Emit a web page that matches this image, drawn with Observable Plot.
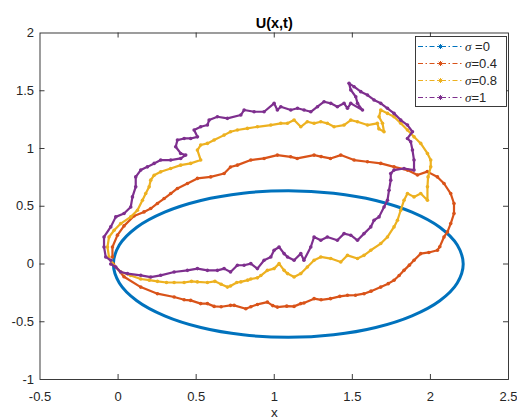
<!DOCTYPE html>
<html><head><meta charset="utf-8">
<script src="https://cdn.jsdelivr.net/npm/d3@7"></script>
<script src="https://cdn.jsdelivr.net/npm/@observablehq/plot@0.6"></script>
<style>
body{margin:0;background:#fff;}
#wrap{position:relative;width:517px;height:419px;font-family:"Liberation Sans",Arial,sans-serif;}
#legend{position:absolute;left:415px;top:36px;}
</style></head><body><div id="wrap"></div>
<script>
// ---- data ----
const titleText = "U(x,t)";
const xLabel = "x";
const xTicks = [-0.5, 0, 0.5, 1, 1.5, 2, 2.5];
const xTickLabels = ["-0.5", "0", "0.5", "1", "1.5", "2", "2.5"];
const yTicks = [-1, -0.5, 0, 0.5, 1, 1.5, 2];
const yTickLabels = ["-1", "-0.5", "0", "0.5", "1", "1.5", "2"];
const seriesNames = ["σ =0", "σ=0.4", "σ=0.8", "σ=1"];
const seriesColors = ["#0072BD", "#D95319", "#EDB120", "#7E2F8E"];

// σ = 0 : closed orbit (points read around the ellipse)
const sigma0 = [
  [2.21,0],[2.172,0.164],[2.06,0.318],[1.882,0.449],[1.65,0.55],[1.38,0.613],
  [1.09,0.635],[0.8,0.613],[0.53,0.55],[0.298,0.449],[0.12,0.318],[0.008,0.164],
  [-0.03,0],[0.008,-0.164],[0.12,-0.318],[0.298,-0.449],[0.53,-0.55],[0.8,-0.613],
  [1.09,-0.635],[1.38,-0.613],[1.65,-0.55],[1.882,-0.449],[2.06,-0.318],[2.172,-0.164]
];

// σ = 0.4
const sigma04 = [
  [-0.03,0],[0.038,-0.11],[0.145,-0.2],[0.252,-0.257],[0.359,-0.286],[0.423,-0.31],
  [0.465,-0.315],[0.529,-0.343],[0.572,-0.343],[0.615,-0.367],[0.66,-0.37],[0.72,-0.358],
  [0.743,-0.358],[0.818,-0.387],[0.85,-0.37],[0.892,-0.35],[0.956,-0.33],[0.99,-0.36],
  [1.02,-0.373],[1.08,-0.365],[1.127,-0.367],[1.17,-0.343],[1.19,-0.338],[1.255,-0.3],
  [1.3,-0.31],[1.36,-0.3],[1.42,-0.28],[1.469,-0.271],[1.52,-0.27],[1.575,-0.257],
  [1.62,-0.235],[1.682,-0.2],[1.73,-0.17],[1.767,-0.141],[1.8,-0.1],[1.831,-0.055],
  [1.865,-0.01],[1.895,0.032],[1.938,0.09],[1.99,0.1],[2.045,0.119],[2.06,0.15],
  [2.087,0.234],[2.109,0.278],[2.13,0.35],[2.151,0.437],[2.151,0.524],[2.13,0.61],
  [2.087,0.697],[2.045,0.754],[1.98,0.8],[1.917,0.77],[1.853,0.813],[1.767,0.841],
  [1.682,0.871],[1.597,0.885],[1.511,0.9],[1.426,0.943],[1.36,0.914],[1.3,0.93],
  [1.255,0.943],[1.147,0.914],[1.105,0.928],[1.02,0.943],[0.935,0.914],[0.85,0.9],
  [0.764,0.856],[0.72,0.84],[0.679,0.784],[0.593,0.754],[0.508,0.741],[0.444,0.697],
  [0.38,0.654],[0.337,0.61],[0.295,0.567],[0.252,0.524],[0.209,0.48],[0.166,0.451],
  [0.102,0.415],[0.038,0.33],[-0.004,0.25],[-0.036,0.147],[-0.036,0.06]
];

// σ = 0.8
const sigma08 = [
  [-0.04,0.01],[0.017,-0.069],[0.081,-0.1],[0.145,-0.13],[0.2,-0.14],[0.252,-0.15],
  [0.31,-0.16],[0.359,-0.16],[0.423,-0.16],[0.47,-0.15],[0.508,-0.155],[0.572,-0.16],
  [0.62,-0.15],[0.66,-0.175],[0.7,-0.2],[0.72,-0.19],[0.76,-0.16],[0.786,-0.155],
  [0.83,-0.14],[0.85,-0.13],[0.892,-0.12],[0.914,-0.1],[0.956,-0.055],[0.999,-0.04],
  [1.031,0.003],[1.063,-0.055],[1.085,-0.083],[1.127,-0.113],[1.17,-0.083],[1.212,-0.026],
  [1.255,0.032],[1.298,0.061],[1.362,0.047],[1.426,0.017],[1.469,0.075],[1.533,0.047],
  [1.575,0.075],[1.618,0.119],[1.682,0.177],[1.725,0.234],[1.767,0.321],[1.789,0.379],
  [1.81,0.466],[1.831,0.552],[1.853,0.61],[1.895,0.581],[1.938,0.61],[1.981,0.552],
  [1.981,0.668],[1.985,0.754],[2.002,0.841],[2.002,0.9],[1.981,0.957],[1.938,1.044],
  [1.895,1.101],[1.853,1.16],[1.81,1.218],[1.767,1.275],[1.725,1.304],[1.682,1.333],
  [1.671,1.275],[1.693,1.218],[1.703,1.145],[1.67,1.17],[1.66,1.218],[1.597,1.203],
  [1.533,1.232],[1.49,1.246],[1.447,1.203],[1.383,1.188],[1.34,1.218],[1.298,1.232],
  [1.255,1.218],[1.212,1.232],[1.17,1.188],[1.127,1.246],[1.085,1.218],[1.042,1.218],
  [0.978,1.203],[0.892,1.188],[0.828,1.174],[0.764,1.16],[0.72,1.145],[0.679,1.116],
  [0.615,1.073],[0.572,1.044],[0.529,1.03],[0.508,0.986],[0.529,0.9],[0.465,0.871],
  [0.401,0.856],[0.337,0.827],[0.273,0.798],[0.231,0.769],[0.209,0.726],[0.199,0.668],
  [0.177,0.61],[0.156,0.552],[0.124,0.466],[0.081,0.408],[0.017,0.35],[-0.025,0.292],
  [-0.058,0.234],[-0.068,0.147],[-0.058,0.06]
];

// σ = 1
const sigma1 = [
  [-0.047,0],[-0.015,-0.026],[0.017,-0.069],[0.06,-0.083],[0.145,-0.098],[0.209,-0.113],
  [0.273,-0.098],[0.359,-0.069],[0.444,-0.055],[0.508,-0.04],[0.572,-0.055],[0.636,-0.055],
  [0.679,-0.04],[0.72,-0.069],[0.764,-0.011],[0.807,-0.011],[0.85,0.003],[0.892,-0.04],
  [0.935,0.032],[0.978,0.061],[0.999,0.119],[1.031,0.147],[1.063,0.09],[1.085,0.061],
  [1.127,0.032],[1.17,0.09],[1.19,0.032],[1.234,0.147],[1.255,0.234],[1.298,0.205],
  [1.34,0.234],[1.404,0.205],[1.447,0.263],[1.49,0.249],[1.533,0.205],[1.575,0.263],
  [1.618,0.321],[1.639,0.379],[1.671,0.408],[1.703,0.494],[1.725,0.552],[1.735,0.639],
  [1.746,0.726],[1.746,0.784],[1.767,0.813],[1.831,0.827],[1.895,0.813],[1.895,0.9],
  [1.885,0.986],[1.874,1.058],[1.853,1.087],[1.885,1.145],[1.853,1.203],[1.81,1.246],
  [1.767,1.304],[1.725,1.348],[1.682,1.391],[1.639,1.42],[1.597,1.463],[1.554,1.492],
  [1.511,1.535],[1.479,1.564],[1.49,1.507],[1.522,1.448],[1.533,1.391],[1.565,1.333],
  [1.49,1.391],[1.469,1.348],[1.447,1.391],[1.404,1.362],[1.362,1.391],[1.319,1.405],
  [1.277,1.362],[1.234,1.318],[1.191,1.333],[1.149,1.348],[1.106,1.333],[1.042,1.362],
  [1.02,1.333],[0.999,1.391],[0.935,1.318],[0.871,1.318],[0.807,1.333],[0.786,1.29],
  [0.7,1.261],[0.636,1.275],[0.583,1.246],[0.572,1.203],[0.529,1.188],[0.487,1.16],
  [0.508,1.101],[0.465,1.087],[0.423,1.087],[0.38,1.073],[0.369,1.015],[0.401,0.957],
  [0.433,0.943],[0.401,0.914],[0.337,0.9],[0.273,0.9],[0.231,0.871],[0.188,0.841],
  [0.145,0.813],[0.113,0.754],[0.113,0.668],[0.092,0.581],[0.081,0.494],[0.038,0.437],
  [-0.015,0.408],[-0.047,0.321],[-0.09,0.234],[-0.09,0.147],[-0.079,0.061],[-0.047,0.032]
];

// ---- layout ----
const W = 517, H = 419;
const mL = 39.5, mR = 9, mT = 32.5, mB = 40;
const xDom = [-0.5, 2.5], yDom = [-1, 2];
const tickPx = 5;
const tx = tickPx * (xDom[1] - xDom[0]) / (W - mL - mR);
const ty = tickPx * (yDom[1] - yDom[0]) / (H - mT - mB);
const axisColor = "#262626";
const font = "Liberation Sans, Arial, sans-serif";

const X = d => d[0], Y = d => d[1];

const marks = [
  Plot.frame({stroke: axisColor, strokeWidth: 0.9}),
  // inward ticks on all four sides
  Plot.ruleX(xTicks.slice(1, -1), {x: d => d, y1: yDom[0], y2: yDom[0] + ty, stroke: axisColor, strokeWidth: 0.9}),
  Plot.ruleX(xTicks.slice(1, -1), {x: d => d, y1: yDom[1], y2: yDom[1] - ty, stroke: axisColor, strokeWidth: 0.9}),
  Plot.ruleY(yTicks.slice(1, -1), {y: d => d, x1: xDom[0], x2: xDom[0] + tx, stroke: axisColor, strokeWidth: 0.9}),
  Plot.ruleY(yTicks.slice(1, -1), {y: d => d, x1: xDom[1], x2: xDom[1] - tx, stroke: axisColor, strokeWidth: 0.9}),
  Plot.axisX(xTicks, {tickSize: 0, tickPadding: 12, tickFormat: (d, i) => xTickLabels[i], fontSize: 13, fill: axisColor, label: null}),
  Plot.axisY(yTicks, {tickSize: 0, tickPadding: 6, tickFormat: (d, i) => yTickLabels[i], fontSize: 13, fill: axisColor, label: null}),
  Plot.text([titleText], {frameAnchor: "top", lineAnchor: "bottom", dy: -5.5, fontWeight: "bold", fontSize: 14.5, fill: "#000"}),
  Plot.text([xLabel], {frameAnchor: "bottom", lineAnchor: "bottom", dy: 37.5, fontSize: 13.5, fill: axisColor}),
  Plot.line(sigma0, {x: X, y: Y, curve: "catmull-rom-closed", stroke: seriesColors[0], strokeWidth: 3})
];
[sigma04, sigma08, sigma1].forEach((s, k) => {
  const c = seriesColors[k + 1];
  marks.push(Plot.line(s, {x: X, y: Y, stroke: c, strokeWidth: 2.2}));
  marks.push(Plot.dot(s, {x: X, y: Y, r: 1.8, fill: c, stroke: "none"}));
});

const chart = Plot.plot({
  width: W, height: H,
  marginLeft: mL, marginRight: mR, marginTop: mT, marginBottom: mB,
  x: {domain: xDom, axis: null},
  y: {domain: yDom, axis: null},
  style: {fontFamily: font, background: "#fff", overflow: "visible"},
  marks
});
const wrap = document.getElementById("wrap");
wrap.appendChild(chart);

// ---- legend (inside the axes, top right) ----
const lw = 91, lh = 70;
const rows = [10.5, 27.5, 44.5, 61.5];
const lg = d3.create("svg").attr("id", "legend").attr("width", lw + 1).attr("height", lh + 1)
  .style("position", "absolute").style("left", "415px").style("top", "36px");
lg.append("rect").attr("x", 0.5).attr("y", 0.5).attr("width", lw).attr("height", lh)
  .attr("fill", "#fff").attr("stroke", axisColor).attr("stroke-width", 0.9);
seriesNames.forEach((name, i) => {
  const g = lg.append("g").attr("transform", `translate(0,${rows[i]})`);
  g.append("line").attr("x1", 3).attr("x2", 48).attr("y1", 0).attr("y2", 0)
    .attr("stroke", seriesColors[i]).attr("stroke-width", 1).attr("stroke-dasharray", "5,2.5,1.5,2.5");
  const m = g.append("g").attr("transform", "translate(25.5,0)").attr("stroke", seriesColors[i]).attr("stroke-width", 1);
  m.append("line").attr("x1", -2.5).attr("x2", 2.5).attr("y1", 0).attr("y2", 0);
  m.append("line").attr("x1", 0).attr("x2", 0).attr("y1", -2.5).attr("y2", 2.5);
  m.append("line").attr("x1", -1.8).attr("x2", 1.8).attr("y1", -1.8).attr("y2", 1.8);
  m.append("line").attr("x1", -1.8).attr("x2", 1.8).attr("y1", 1.8).attr("y2", -1.8);
  const t = g.append("text").attr("x", 50).attr("y", 4.6).attr("font-size", 13)
    .attr("font-family", font).attr("fill", axisColor);
  t.append("tspan").attr("font-style", "italic").attr("font-family", "Liberation Serif, serif").text("σ");
  t.append("tspan").text(name.slice(1));
});
wrap.appendChild(lg.node());
</script></body></html>
